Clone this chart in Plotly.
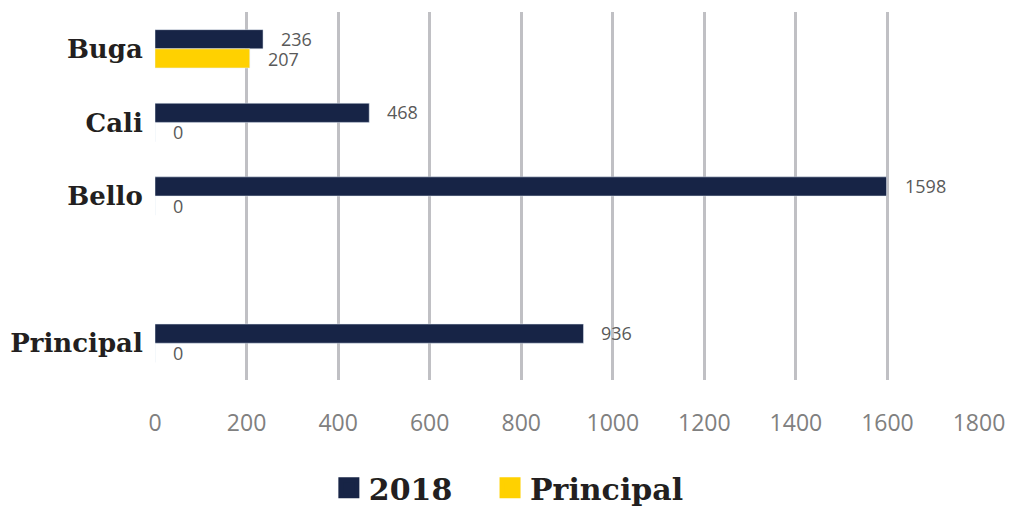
import plotly.graph_objects as go

# categories top to bottom (blank slot between Bello and Principal)
categories = ["Buga", "Cali", "Bello", " ", "Principal"]
values_2018 = [236, 468, 1598, None, 936]
values_principal = [207, 0, 0, None, 0]
x_ticks = [0, 200, 400, 600, 800, 1000, 1200, 1400, 1600, 1800]

NAVY = "#172446"
YELLOW = "#ffd100"
SERIF = "DejaVu Serif"
SANS = "Open Sans"

fig = go.Figure()

fig.add_trace(go.Bar(
    y=categories, x=values_2018, orientation="h",
    name="2018", marker_color=NAVY, showlegend=False
))
fig.add_trace(go.Bar(
    y=categories, x=values_principal, orientation="h",
    name="Principal", marker_color=YELLOW, showlegend=False
))

# legend-only entries with bigger squares, one legend box each for spacing
for name, color, leg in [("2018", NAVY, "legend"), ("Principal", YELLOW, "legend2")]:
    fig.add_trace(go.Scatter(
        x=[None], y=[None], mode="markers", name=name, legend=leg,
        marker=dict(symbol="square", size=16, color=color,
                    line=dict(color=color, width=5))
    ))

# value labels
annotations = []
for vals, shift in [(values_2018, 10), (values_principal, -10)]:
    for cat, v in zip(categories, vals):
        if v is None:
            continue
        annotations.append(dict(
            x=v, y=cat, xref="x", yref="y", text=str(v),
            showarrow=False, xanchor="left", xshift=16, yshift=shift,
            font=dict(family=SANS, size=18, color="#595959")
        ))

legend_font = dict(family=SERIF, size=30, color="#231f20", weight="bold")

fig.update_layout(
    width=1010, height=506,
    barmode="group", bargap=0.48, bargroupgap=0,
    plot_bgcolor="white", paper_bgcolor="white",
    margin=dict(l=155, r=31, t=12, b=126, autoexpand=False),
    annotations=annotations,
    legend=dict(
        orientation="h", x=0.211, xanchor="left", y=-0.293, yanchor="middle",
        font=legend_font, itemwidth=30
    ),
    legend2=dict(
        orientation="h", x=0.4066, xanchor="left", y=-0.293, yanchor="middle",
        font=legend_font, itemwidth=30
    ),
    xaxis=dict(
        range=[0, 1800], tickvals=x_ticks, automargin=False,
        showgrid=True, gridcolor="#c0c0c4", gridwidth=3,
        zeroline=False, showline=False,
        ticks="outside", ticklen=22, tickcolor="rgba(0,0,0,0)",
        tickfont=dict(family=SANS, size=23, color="#808080")
    ),
    yaxis=dict(
        categoryorder="array", categoryarray=categories,
        autorange="reversed", automargin=False,
        showgrid=False, zeroline=False, showline=False,
        ticks="outside", ticklen=6, tickcolor="rgba(0,0,0,0)",
        tickfont=dict(family=SERIF, size=26, color="#231f20", weight="bold")
    ),
)

# drop the browser's default body margin so the figure sits at the page corner
fig.write_html(
    "out.html",
    config={"displayModeBar": False},
    post_script="document.body.style.margin='0';",
)
